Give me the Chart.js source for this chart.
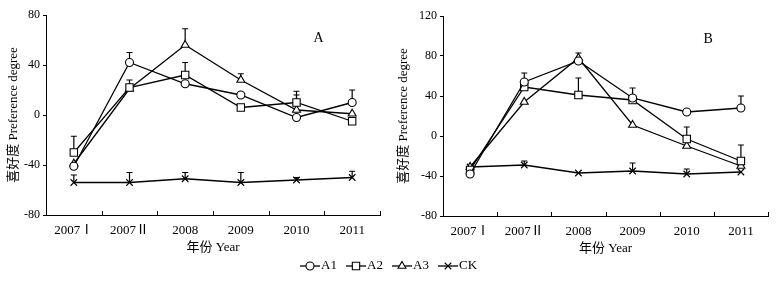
<!DOCTYPE html>
<html><head><meta charset="utf-8">
<script src="https://cdn.jsdelivr.net/npm/chart.js@4.4.0/dist/chart.umd.min.js"></script>
<style>
html,body{margin:0;padding:0;background:#fff;width:777px;height:281px;overflow:hidden}
.c{position:absolute}
</style></head><body>
<div class="c" style="left:0;top:0;width:390px;height:281px"><canvas id="ca" width="390" height="281"></canvas></div>
<div class="c" style="left:390px;top:0;width:387px;height:281px"><canvas id="cb" width="387" height="281"></canvas></div>
<div class="c" style="left:0;top:254px;width:777px;height:24px"><canvas id="cl" width="777" height="24"></canvas></div>
<script>
// ---- data ----
const categories = ['2007Ⅰ', '2007Ⅱ', '2008', '2009', '2010', '2011'];
const seriesNames = ['A1', 'A2', 'A3', 'CK'];
const panelLabels = ['A', 'B'];
const yTitle = '喜好度 Preference degree';
const xTitle = '年份 Year';

// Panel A
const A_A1 = [-41, 42, 25, 16, -2, 10];
const A_A1_err = [0, 8, 0, 0, 0, 10];
const A_A2 = [-30, 22, 32, 6, 10, -5];
const A_A2_err = [13, 6, 10, 0, 9, 0];
const A_A3 = [-39, 21, 56, 28, 4, 1];
const A_A3_err = [0, 0, 13, 5, 12, 0];
const A_CK = [-54, -54, -51, -54, -52, -50];
const A_CK_err = [6, 8, 5, 8, 2, 5];
const yTicksA = [-80, -40, 0, 40, 80];

// Panel B
const B_A1 = [-38, 54, 75, 38, 24, 28];
const B_A1_err = [0, 9, 0, 0, 0, 12];
const B_A2 = [-34, 49, 41, 36, -3, -25];
const B_A2_err = [3, 0, 17, 12, 12, 16];
const B_A3 = [-31, 34, 78, 11, -10, -30];
const B_A3_err = [0, 0, 5, 0, 0, 0];
const B_CK = [-31, -29, -37, -35, -38, -36];
const B_CK_err = [0, 4, 0, 8, 5, 0];
const yTicksB = [-80, -40, 0, 40, 80, 120];

// ---- styles ----
const SERIF = "'Liberation Serif', 'Times New Roman', 'Noto Sans CJK SC', serif";
const markerStyles = [
  {pointStyle: 'circle', radius: 4},
  {pointStyle: 'rect', radius: 5.2},
  {pointStyle: 'triangle', radius: 4.6},
  {pointStyle: 'crossRot', radius: 4.6}
];

function makeDatasets(vals, errs) {
  return vals.map((v, i) => ({
    label: seriesNames[i],
    data: v,
    errors: errs[i],
    borderColor: '#000',
    backgroundColor: '#fff',
    borderWidth: 1.3,
    pointStyle: markerStyles[i].pointStyle,
    pointRadius: markerStyles[i].radius,
    pointBorderWidth: 1.1,
    pointBorderColor: '#000',
    pointBackgroundColor: '#fff',
    tension: 0,
    fill: false
  }));
}

const errorBars = {
  id: 'errorBars',
  beforeDatasetsDraw(chart) {
    const ctx = chart.ctx, ys = chart.scales.y;
    ctx.save();
    ctx.strokeStyle = '#000';
    ctx.lineWidth = 1.2;
    chart.data.datasets.forEach((ds, i) => {
      const meta = chart.getDatasetMeta(i);
      (ds.errors || []).forEach((e, j) => {
        if (!e) return;
        const x = meta.data[j].x;
        const y0 = ys.getPixelForValue(ds.data[j]);
        const y1 = ys.getPixelForValue(ds.data[j] + e);
        ctx.beginPath();
        ctx.moveTo(x, y0); ctx.lineTo(x, y1);
        ctx.moveTo(x - 3, y1); ctx.lineTo(x + 3, y1);
        ctx.stroke();
      });
    });
    ctx.restore();
  }
};

const decor = {
  id: 'decor',
  afterDraw(chart, args, opts) {
    const ctx = chart.ctx, a = chart.chartArea;
    ctx.save();
    ctx.strokeStyle = '#000';
    ctx.lineWidth = 1;
    // inward ticks at category boundaries
    const n = categories.length;
    for (let i = 1; i <= n; i++) {
      const x = Math.round(a.left + i * (a.right - a.left) / n) + 0.5;
      ctx.beginPath();
      ctx.moveTo(x, a.bottom); ctx.lineTo(x, a.bottom - 4);
      ctx.stroke();
    }
    ctx.fillStyle = '#000';
    ctx.font = '14px ' + SERIF;
    ctx.textAlign = 'center';
    ctx.textBaseline = 'middle';
    ctx.fillText(opts.label, a.left + 0.816 * (a.right - a.left), a.top + 23);
    ctx.restore();
  }
};

function makeChart(id, vals, errs, ticks, yWidth, pad, label) {
  return new Chart(document.getElementById(id), {
    type: 'line',
    data: {labels: categories, datasets: makeDatasets(vals, errs)},
    options: {
      responsive: false,
      animation: false,
      layout: {padding: pad},
      plugins: {legend: {display: false}, tooltip: {enabled: false}, decor: {label: label}},
      scales: {
        x: {
          type: 'category',
          offset: true,
          grid: {display: false, drawTicks: false},
          border: {display: true, color: '#000', width: 1},
          ticks: {color: '#000', font: {family: SERIF, size: 13}, padding: 8, maxRotation: 0, autoSkip: false},
          title: {display: true, text: xTitle, color: '#000', font: {family: SERIF, size: 13}, padding: 0},
          afterFit(s) { s.height = 40; }
        },
        y: {
          min: ticks[0],
          max: ticks[ticks.length - 1],
          afterBuildTicks(s) { s.ticks = ticks.map(v => ({value: v})); },
          grid: {display: true, drawOnChartArea: false, drawTicks: true, tickLength: 3, color: '#000'},
          border: {display: true, color: '#000', width: 1},
          ticks: {color: '#000', font: {family: SERIF, size: 12}, padding: 3},
          title: {display: true, text: yTitle, color: '#000', font: {family: SERIF, size: 13}, padding: 0},
          afterFit(s) { s.width = yWidth; }
        }
      }
    },
    plugins: [errorBars, decor]
  });
}

makeChart('ca', [A_A1, A_A2, A_A3, A_CK], [A_A1_err, A_A2_err, A_A3_err, A_CK_err], yTicksA, 40,
  {left: 6, right: 10, top: 15, bottom: 26}, panelLabels[0]);
makeChart('cb', [B_A1, B_A2, B_A3, B_CK], [B_A1_err, B_A2_err, B_A3_err, B_CK_err], yTicksB, 47,
  {left: 6, right: 9, top: 16, bottom: 25}, panelLabels[1]);

// legend
const legendPlugin = {
  id: 'customLegend',
  afterDraw(chart) {
    const ctx = chart.ctx;
    const y = 12;
    ctx.save();
    chart.data.datasets.forEach((ds, i) => {
      const x0 = 300 + i * 46;
      ctx.strokeStyle = '#000';
      ctx.lineWidth = 1.3;
      ctx.beginPath();
      ctx.moveTo(x0, y); ctx.lineTo(x0 + 20, y);
      ctx.stroke();
      ctx.fillStyle = '#fff';
      ctx.lineWidth = 1.1;
      Chart.helpers.drawPoint(ctx, {pointStyle: ds.pointStyle, radius: ds.pointRadius, rotation: 0, borderWidth: 1.1}, x0 + 10, y);
      ctx.fillStyle = '#000';
      ctx.font = '13px ' + SERIF;
      ctx.textAlign = 'left';
      ctx.textBaseline = 'middle';
      ctx.fillText(ds.label, x0 + 21, y);
    });
    ctx.restore();
  }
};
new Chart(document.getElementById('cl'), {
  type: 'line',
  data: {labels: categories, datasets: makeDatasets([[], [], [], []], [[], [], [], []])},
  options: {
    responsive: false, animation: false,
    plugins: {legend: {display: false}, tooltip: {enabled: false}},
    scales: {x: {display: false}, y: {display: false}}
  },
  plugins: [legendPlugin]
});
</script>
</body></html>
